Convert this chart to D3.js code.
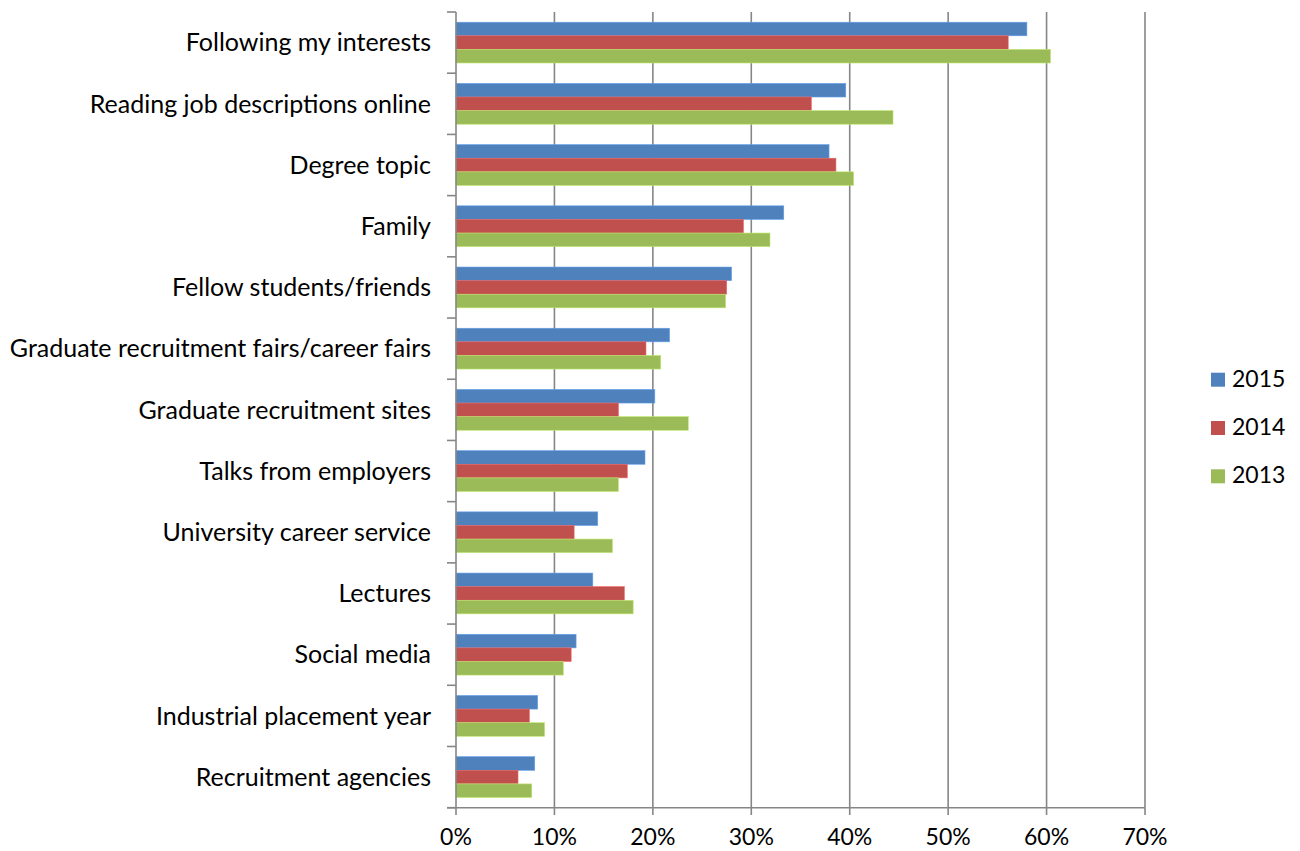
<!DOCTYPE html>
<html><head><meta charset="utf-8">
<script src="https://cdn.jsdelivr.net/npm/d3@7"></script>
<style>body{margin:0;background:#fff}svg{display:block}text{font-family:Lato,"Open Sans",sans-serif;fill:#000}</style>
</head><body><svg id="c" width="1300" height="851"></svg>
<script>
const categories = ["Following my interests","Reading job descriptions online","Degree topic","Family","Fellow students/friends","Graduate recruitment fairs/career fairs","Graduate recruitment sites","Talks from employers","University career service","Lectures","Social media","Industrial placement year","Recruitment agencies"];
const seriesNames = ["2015","2014","2013"];
const values2015 = [58.0,39.6,37.9,33.3,28.0,21.7,20.2,19.2,14.4,13.9,12.2,8.3,8.0];
const values2014 = [56.1,36.1,38.6,29.2,27.5,19.3,16.5,17.4,12.0,17.1,11.7,7.45,6.3];
const values2013 = [60.4,44.4,40.4,31.9,27.4,20.8,23.6,16.5,15.9,18.0,10.9,9.0,7.7];
const xTicks = [0,10,20,30,40,50,60,70];
const colors = ["#4F81BD","#C0504D","#9BBB59"];
const series = [values2015, values2014, values2013];

const svg = d3.select("#c");
const x = d3.scaleLinear().domain([0,70]).range([456,1145]);
const y = d3.scaleBand().domain(categories).range([12,807.7]).paddingInner(1/3).paddingOuter(1/6);
const yb = d3.scaleBand().domain(categories).range([12,807.7]);
const inner = d3.scaleBand().domain(seriesNames).range([0,y.bandwidth()]);
const gridColor = "#868686";

svg.append("g").selectAll("line").data(xTicks.slice(1)).join("line")
  .attr("x1",d=>x(d)).attr("x2",d=>x(d)).attr("y1",12).attr("y2",807.7)
  .attr("stroke",gridColor).attr("stroke-width",1.6);

categories.forEach((c,i)=>{
  seriesNames.forEach((s,j)=>{
    svg.append("rect").attr("x",x(0)).attr("y",y(c)+inner(s))
      .attr("width",x(series[j][i])-x(0)).attr("height",inner.bandwidth())
      .attr("fill",colors[j]).attr("stroke",d3.color(colors[j]).brighter(0.6)).attr("stroke-width",0.6);
  });
});

const yAxis = svg.append("g");
yAxis.append("line").attr("x1",456).attr("x2",456).attr("y1",12).attr("y2",807.7).attr("stroke",gridColor).attr("stroke-width",1.6);
const bounds = categories.map(c=>yb(c)).concat([807.7]);
yAxis.selectAll("line.t").data(bounds).join("line").attr("class","t")
  .attr("x1",447).attr("x2",456).attr("y1",d=>d).attr("y2",d=>d).attr("stroke",gridColor).attr("stroke-width",1.6);
yAxis.selectAll("text").data(categories).join("text")
  .attr("x",431).attr("y",c=>yb(c)+yb.bandwidth()/2).attr("dy","0.35em")
  .attr("text-anchor","end").attr("font-size",25).text(d=>d);

const xAxis = svg.append("g");
xAxis.append("line").attr("x1",447).attr("x2",1145).attr("y1",807.7).attr("y2",807.7).attr("stroke",gridColor).attr("stroke-width",1.6);
xAxis.selectAll("line.t").data(xTicks).join("line").attr("class","t")
  .attr("x1",d=>x(d)).attr("x2",d=>x(d)).attr("y1",807.7).attr("y2",815).attr("stroke",gridColor).attr("stroke-width",1.6);
xAxis.selectAll("text").data(xTicks).join("text")
  .attr("x",d=>x(d)).attr("y",845).attr("text-anchor","middle")
  .attr("font-size",23).text(d=>d+"%");

const lg = svg.append("g").selectAll("g").data(seriesNames).join("g")
  .attr("transform",(d,i)=>`translate(1211,${372.7+i*48.3})`);
lg.append("rect").attr("width",14).attr("height",14).attr("fill",(d,i)=>colors[i]);
lg.append("text").attr("x",21).attr("y",14).attr("font-size",23).text(d=>d);
</script></body></html>
